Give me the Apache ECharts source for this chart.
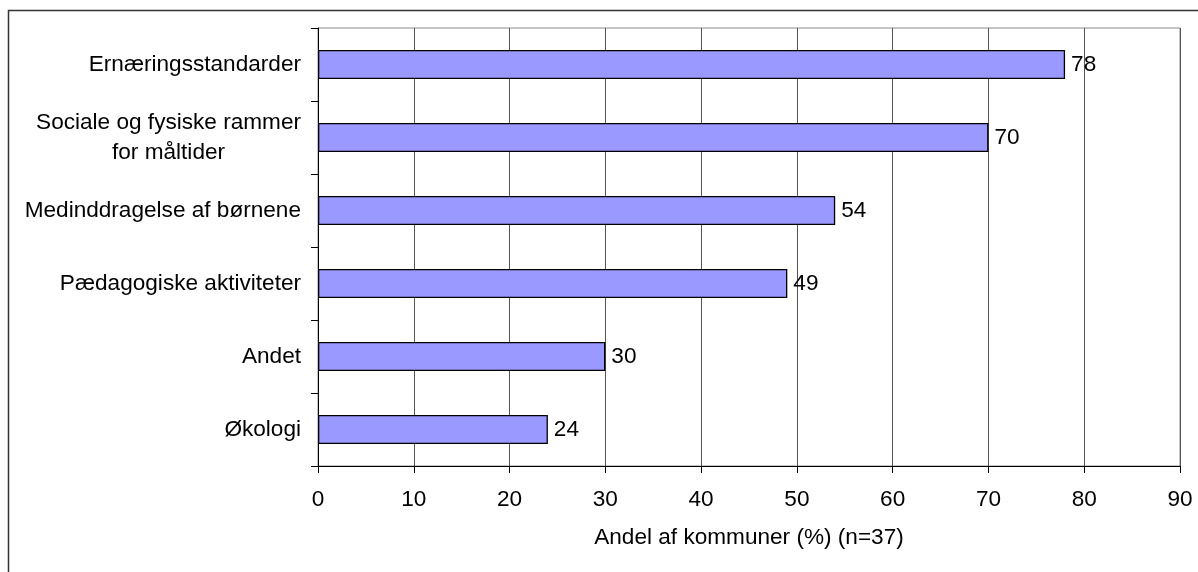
<!DOCTYPE html>
<html>
<head>
<meta charset="utf-8">
<script src="https://cdn.jsdelivr.net/npm/echarts@6/dist/echarts.min.js"></script>
<style>
html,body{margin:0;padding:0;background:#fff;}
#c{width:1198px;height:572px;}
</style>
</head>
<body>
<div id="c"></div>
<script>
const categories = [
  "Ernæringsstandarder",
  "Sociale og fysiske rammer\nfor måltider",
  "Medinddragelse af børnene",
  "Pædagogiske aktiviteter",
  "Andet",
  "Økologi"
];
const values = [78, 70, 54, 49, 30, 24];
const xAxisName = "Andel af kommuner (%) (n=37)";
const xMin = 0, xMax = 90, xInterval = 10;

const FONT = "'Liberation Sans', Arial, sans-serif";
const FS = 22.6;
const chart = echarts.init(document.getElementById('c'), null, {renderer: 'canvas'});
chart.setOption({
  animation: false,
  backgroundColor: '#fff',
  grid: {
    left: 318, right: 18, top: 28, bottom: 106,
    show: true, borderColor: '#8a8a8a', borderWidth: 1, backgroundColor: 'transparent'
  },
  graphic: [{
    type: 'rect', silent: true, z: 100,
    shape: {x: 8.5, y: 10.5, width: 1400, height: 800},
    style: {fill: 'none', stroke: '#333', lineWidth: 1.5}
  }],
  xAxis: {
    type: 'value', min: xMin, max: xMax, interval: xInterval,
    name: xAxisName, nameLocation: 'middle', nameGap: 60,
    nameTextStyle: {fontFamily: FONT, fontSize: FS, color: '#000'},
    axisLine: {show: true, lineStyle: {color: '#000', width: 1}},
    axisTick: {show: true, length: 7, lineStyle: {color: '#000'}},
    axisLabel: {fontFamily: FONT, fontSize: FS, color: '#000', margin: 22},
    splitLine: {show: true, lineStyle: {color: '#555', width: 1}}
  },
  yAxis: {
    type: 'category', data: categories, inverse: true,
    axisLine: {show: true, lineStyle: {color: '#000', width: 1}},
    axisTick: {show: true, length: 7, lineStyle: {color: '#000'}},
    axisLabel: {
      margin: 17, color: '#000',
      formatter: function (v) {
        return v.split('\n').map(function (s) { return '{a|' + s + '}'; }).join('\n');
      },
      rich: {a: {fontFamily: FONT, fontSize: FS, color: '#000', align: 'center', lineHeight: 30}}
    },
    splitLine: {show: false}
  },
  series: [{
    type: 'bar', data: values, barWidth: 29,
    itemStyle: {color: '#9999FF', borderColor: '#000', borderWidth: 1.3},
    label: {show: true, position: 'right', distance: 6, fontFamily: FONT, fontSize: FS, color: '#000'}
  }]
});
</script>
</body>
</html>
